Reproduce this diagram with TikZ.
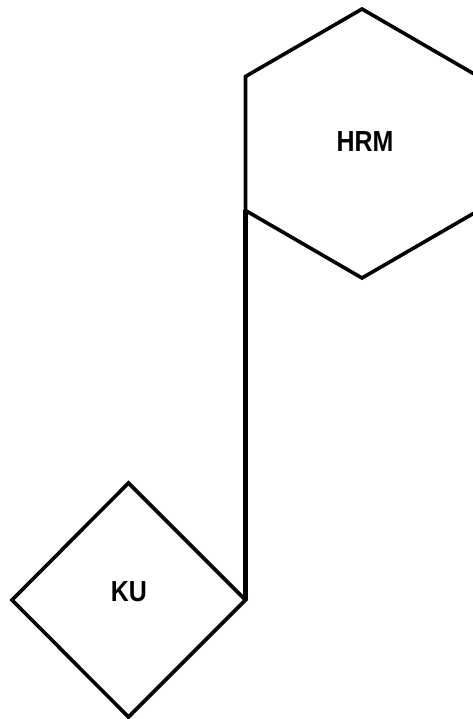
\documentclass[tikz,border=0pt]{standalone}
\usepackage{fontspec}
\setmainfont{Liberation Sans}
\begin{document}
\begin{tikzpicture}[x=1pt,y=-1pt,
  shapeline/.style={draw=black,line width=3.6pt,line join=miter},
  connector/.style={draw=black,line width=4.2pt},
  label/.style={font=\fontsize{29}{31}\selectfont\bfseries,xscale=0.86,inner sep=0pt}]
\useasboundingbox (0,0) rectangle (473,719);
\clip (0,0) rectangle (473,719);
% hexagon HRM
\coordinate (hexT) at (362,9);
\coordinate (hexUR) at (478.5,76.5);
\coordinate (hexLR) at (478.5,210.5);
\coordinate (hexB) at (362,278);
\coordinate (hexLL) at (245.5,210.5);
\coordinate (hexUL) at (245.5,76.5);
\draw[shapeline] (hexT) -- (hexUR) -- (hexLR) -- (hexB) -- (hexLL) -- (hexUL) -- cycle;
\node[label] (hrm) at (365,142) {HRM};
% diamond KU
\coordinate (kuT) at (128.5,483);
\coordinate (kuR) at (245.5,600);
\coordinate (kuB) at (128.5,717);
\coordinate (kuL) at (12,600);
\draw[shapeline] (kuT) -- (kuR) -- (kuB) -- (kuL) -- cycle;
\node[label] (ku) at (129,592) {KU};
% connector
\draw[connector] (hexLL) -- (kuR);
\end{tikzpicture}
\end{document}
